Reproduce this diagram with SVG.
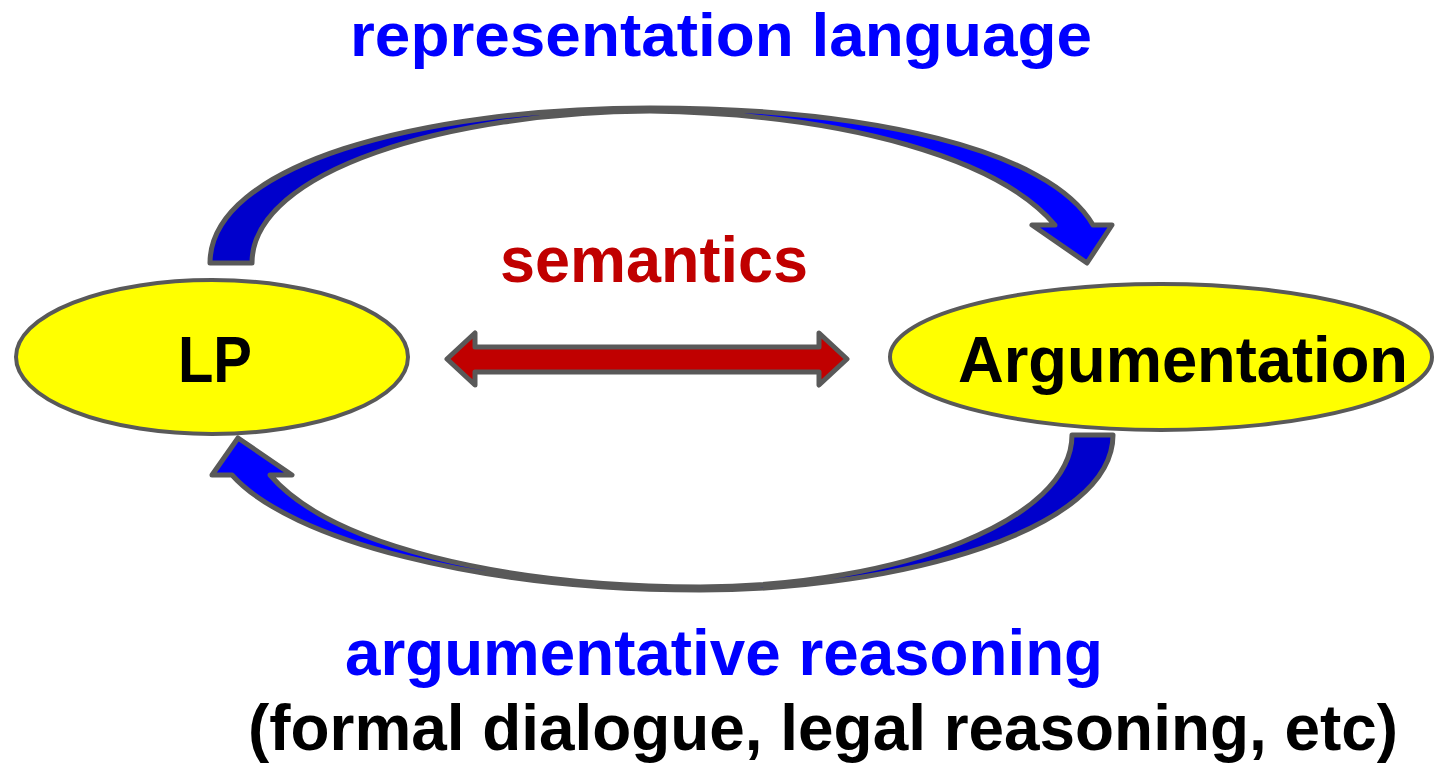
<svg xmlns="http://www.w3.org/2000/svg" width="1435" height="768" viewBox="0 0 1435 768">
<style>
.lbl{font-family:"Liberation Sans",Arial,sans-serif;font-weight:bold;font-size:64px}
.node{fill:#FFFF00;stroke:#595959;stroke-width:4}
.conn{stroke:#595959;stroke-width:5;stroke-linejoin:round}
</style>
<defs>
<linearGradient id="gTop" x1="0" y1="0" x2="1" y2="0">
<stop offset="0.5" stop-color="#0000CC"/><stop offset="0.5" stop-color="#0000FF"/>
</linearGradient>
<linearGradient id="gBot" x1="0" y1="0" x2="1" y2="0">
<stop offset="0.5" stop-color="#0000FF"/><stop offset="0.5" stop-color="#0000CC"/>
</linearGradient>
</defs>
<rect width="1435" height="768" fill="#FFFFFF"/>
<g id="connectors">
<path class="conn" fill="url(#gTop)" d="M 210,263 C 210,165 420,108 650,108 C 870,108 1050,150 1093,225 L 1112,225 L 1087,263 L 1032,225 L 1055,225 C 1000,160 850,114 650,111 C 450,112 252,170 252,263 Z"/>
<path class="conn" fill="url(#gBot)" d="M 1113,435 C 1113,530 900,590 700,590 C 480,590 290,540 232,475 L 212,475 L 238,438 L 292,475 L 270,475 C 330,545 500,586 700,587 C 900,586 1072,520 1072,435 Z"/>
<path class="conn" fill="#C00000" d="M 447,359 L 475,333 L 475,347 L 819,347 L 819,333 L 847,359 L 819,385 L 819,372 L 475,372 L 475,385 Z"/>
</g>
<g id="node-lp">
<ellipse class="node" cx="212" cy="357" rx="196" ry="77"/>
<text class="lbl" x="178" y="382" textLength="74" lengthAdjust="spacingAndGlyphs" fill="#000000">LP</text>
</g>
<g id="node-argumentation">
<ellipse class="node" cx="1161" cy="357" rx="271" ry="73"/>
<text class="lbl" x="958" y="382" textLength="450" lengthAdjust="spacingAndGlyphs" fill="#000000">Argumentation</text>
</g>
<g id="labels">
<text class="lbl" x="350" y="56" style="font-size:62px" textLength="742" lengthAdjust="spacingAndGlyphs" fill="#0000FF">representation language</text>
<text class="lbl" x="500" y="282" textLength="308" lengthAdjust="spacingAndGlyphs" fill="#C00000">semantics</text>
<text class="lbl" x="345" y="675" textLength="758" lengthAdjust="spacingAndGlyphs" fill="#0000FF">argumentative reasoning</text>
<text class="lbl" x="248" y="750" textLength="1150" lengthAdjust="spacingAndGlyphs" fill="#000000">(formal dialogue, legal reasoning, etc)</text>
</g>
</svg>
